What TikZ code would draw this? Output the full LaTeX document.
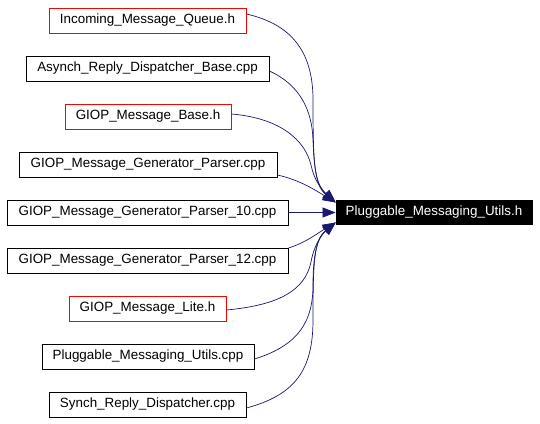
\documentclass[tikz,border=0pt]{standalone}
\usepackage{fontspec}
\setmainfont{Liberation Sans}
\usetikzlibrary{arrows.meta,calc}
\definecolor{edgeblue}{HTML}{191970}
\tikzset{
  filebox/.style={draw=black, line width=0.8pt, fill=white, minimum height=25pt, inner sep=0pt, font=\fontsize{13.4}{15}\selectfont},
  redbox/.style={filebox, draw=red},
  targetbox/.style={filebox, draw=black, fill=black, text=white, minimum height=24pt},
  dep/.style={draw=edgeblue, line width=0.7pt, -{Triangle[length=13pt,width=10pt]}},
}
\begin{document}
\begin{tikzpicture}[x=1pt,y=-1pt]
\useasboundingbox[fill=white] (0,0) rectangle (540,423);
\node[redbox, minimum width=197pt] (n1) at (147.5,20.5) {Incoming\_Message\_Queue.h};
\node[filebox, minimum width=243pt] (n2) at (147.5,68.5) {Asynch\_Reply\_Dispatcher\_Base.cpp};
\node[redbox, minimum width=166pt] (n3) at (148,116.5) {GIOP\_Message\_Base.h};
\node[filebox, minimum width=258pt] (n4) at (148,164.5) {GIOP\_Message\_Generator\_Parser.cpp};
\node[filebox, minimum width=281pt] (n5) at (147.5,212.5) {GIOP\_Message\_Generator\_Parser\_10.cpp};
\node[filebox, minimum width=281pt] (n6) at (147.5,260.5) {GIOP\_Message\_Generator\_Parser\_12.cpp};
\node[redbox, minimum width=157pt] (n7) at (147.5,308.5) {GIOP\_Message\_Lite.h};
\node[filebox, minimum width=212pt] (n8) at (148,356.5) {Pluggable\_Messaging\_Utils.cpp};
\node[filebox, minimum width=197pt] (n9) at (147.5,404.5) {Synch\_Reply\_Dispatcher.cpp};
\node[targetbox, minimum width=196pt] (t) at (434,212.5) {Pluggable\_Messaging\_Utils.h};

\coordinate (ta) at ($(t.west)+(0,-10)$);
\coordinate (tb) at (t.west);
\coordinate (tc) at ($(t.west)+(0,10)$);

\draw[dep] ($(n1.east)+(0,-6.5)$) .. controls (290,24) and (313,50) .. (313,100) .. controls (313,160) and (314,185) .. (ta);
\draw[dep] ($(n2.east)+(0,2.5)$) .. controls (300,85) and (312,110) .. (313,140) .. controls (314,170) and (317,186) .. (ta);
\draw[dep] ($(n3.east)+(0,-2.5)$) .. controls (280,118) and (305,140) .. (311,165) .. controls (314,180) and (322,190) .. (ta);
\draw[dep] ($(n4.east)+(0,10.5)$) .. controls (300,180) and (315,190) .. (ta);
\draw[dep] (n5.east) -- (tb);
\draw[dep] ($(n6.east)+(0,-12.5)$) .. controls (305,243) and (318,233) .. (tc);
\draw[dep] ($(n7.east)+(0,1.5)$) .. controls (280,305) and (305,290) .. (311,262) .. controls (314,245) and (322,234) .. (tc);
\draw[dep] ($(n8.east)+(0,2.5)$) .. controls (300,345) and (313,320) .. (313,285) .. controls (313,255) and (317,238) .. (tc);
\draw[dep] ($(n9.east)+(0,3.5)$) .. controls (295,395) and (313,370) .. (313,320) .. controls (313,262) and (314,240) .. (tc);
\end{tikzpicture}
\end{document}
